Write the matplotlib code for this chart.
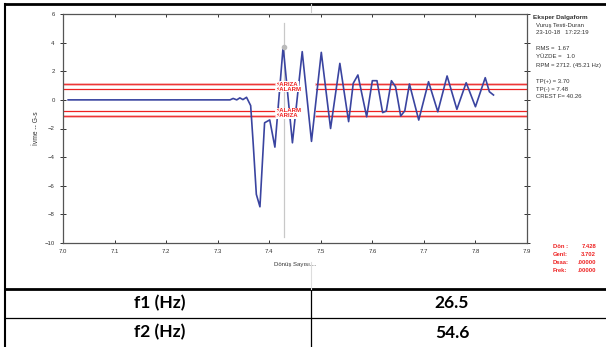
import matplotlib.pyplot as plt
from matplotlib.lines import Line2D

# Dönüş (turn count) vs acceleration trace
turns = [7.010, 7.324, 7.330, 7.337, 7.343, 7.349, 7.356, 7.364, 7.369, 7.375,
         7.382, 7.391, 7.401, 7.411, 7.427, 7.445, 7.464, 7.482, 7.501, 7.519,
         7.537, 7.554, 7.563, 7.572, 7.589, 7.600, 7.609, 7.620, 7.627, 7.637,
         7.645, 7.655, 7.663, 7.672, 7.690, 7.709, 7.727, 7.745, 7.764, 7.782,
         7.800, 7.819, 7.827, 7.835]
accel = [0.00, 0.00, 0.10, 0.00, 0.14, 0.02, 0.18, -0.40, -3.10, -6.60,
         -7.47, -1.60, -1.40, -3.30, 3.72, -3.00, 3.37, -2.90, 3.32, -2.00,
         2.55, -1.52, 1.16, 1.74, -1.18, 1.34, 1.34, -0.89, -0.78, 1.34,
         0.92, -1.13, -0.76, 1.11, -1.41, 1.27, -0.83, 1.67, -0.66, 1.20,
         -0.48, 1.55, 0.57, 0.34]

fault_level = 1.1
alarm_level = 0.75
cursor_turn = 7.428
cursor_amp = 3.702

x_ticks = [7.0, 7.1, 7.2, 7.3, 7.4, 7.5, 7.6, 7.7, 7.8, 7.9]
y_ticks = [-10, -8, -6, -4, -2, 0, 2, 4, 6]

info_lines = ["Vuruş Testi-Duran", "23-10-18   17:22:19", "",
              "RMS =  1.67", "YÜZDE =   1.0", "RPM = 2712. (45.21 Hz)", "",
              "TP(+) = 3.70", "TP(-) = 7.48", "CREST F= 40.26"]
cursor_names = ["Dön :", "Genl:", "Dsaa:", "Frek:"]
cursor_vals = ["7.428", "3.702", ".00000", ".00000"]

table_names = ["f1 (Hz)", "f2 (Hz)"]
table_vals = ["26.5", "54.6"]

W, H = 606, 347
plt.rcParams['font.family'] = ['Liberation Sans', 'DejaVu Sans']
fig = plt.figure(figsize=(W / 100, H / 100), dpi=100)
ax = fig.add_axes([63 / W, 1 - 243 / H, (527 - 63) / W, (243 - 14) / H])

SIG = "#3a44a0"
RED = "#ee2222"

# fault / alarm limit lines, broken where the labels sit
gap_lo, gap_hi = 7.41, 7.49
for lvl in [fault_level, -fault_level]:
    for xs in ([7.0, gap_lo], [gap_hi, 7.9]):
        ax.plot(xs, [lvl, lvl], color="#f4a0a0", lw=1.8, zorder=2)
        ax.plot(xs, [lvl, lvl], color=RED, lw=0.6, zorder=2)
for lvl in [alarm_level, -alarm_level]:
    for xs in ([7.0, gap_lo], [gap_hi, 7.9]):
        ax.plot(xs, [lvl, lvl], color=RED, lw=0.9, zorder=2)

ax.plot([cursor_turn, cursor_turn], [-9.6, 5.4], color="#c8c8c8", lw=0.9, zorder=1)
ax.plot(turns, accel, color=SIG, lw=1.2, zorder=3)
ax.plot([cursor_turn], [cursor_amp], marker="o", ms=3, color="#bbbbbb", zorder=4)

for lvl, name in [(fault_level, "ARIZA"), (alarm_level, "ALARM"),
                  (-alarm_level, "ALARM"), (-fault_level, "ARIZA")]:
    ax.text(7.413, lvl, "⚡" + name, color=RED, fontsize=4.3, fontweight="bold",
            va="center", ha="left", zorder=5,
            bbox=dict(facecolor="white", edgecolor="none", pad=0.3))

ax.set_xlim(7.0, 7.9)
ax.set_ylim(-10, 6)
ax.set_xticks(x_ticks)
ax.set_xticklabels([f"{v:.1f}" for v in x_ticks])
ax.set_yticks(y_ticks)
ax.tick_params(labelsize=4.3, colors="#333333", length=2.5, width=0.7,
               direction="in", top=True, right=True, pad=4)
ax.tick_params(axis="y", which="both", right=True, direction="inout", length=4)
for s in ax.spines.values():
    s.set_color("#555555")
    s.set_linewidth(0.9)
ax.set_xlabel("Dönüş Sayısı....", fontsize=4.3, labelpad=6, color="#333333")
ax.set_ylabel("İvme -- G-s", fontsize=4.8, labelpad=3, color="#333333")

# header block on the right
fig.text(533 / W, 1 - 17 / H, "Eksper Dalgaform", fontsize=4.6, fontweight="bold",
         color="#333333", va="center")
for i, line in enumerate(info_lines):
    fig.text(536 / W, 1 - (25 + i * 8) / H, line, fontsize=4.3, color="#333333",
             va="center")

for i, (n, v) in enumerate(zip(cursor_names, cursor_vals)):
    yy = 1 - (247 + i * 8) / H
    fig.text(553 / W, yy, n, fontsize=4.2, color=RED, fontweight="bold", va="center")
    fig.text(596 / W, yy, v, fontsize=4.2, color=RED, fontweight="bold", va="center",
             ha="right")

# frame and table underneath
def hline(y, x0, x1, lw, col="black"):
    fig.add_artist(Line2D([x0 / W, x1 / W], [1 - y / H, 1 - y / H], color=col, lw=lw))

def vline(x, y0, y1, lw, col="black"):
    fig.add_artist(Line2D([x / W, x / W], [1 - y0 / H, 1 - y1 / H], color=col, lw=lw))

hline(4, 5, W, 2.0)
vline(5, 4, H, 1.5)
hline(289, 5, W, 2.0)
hline(318, 5, W, 0.9)
vline(311, 289, H, 0.9)
vline(311, 4, 12, 0.8, "#cccccc")
vline(311, 262, 289, 0.8, "#dddddd")

for i, (n, v) in enumerate(zip(table_names, table_vals)):
    yy = 1 - (303.5 + i * 29) / H
    fig.text(160 / W, yy, n, fontsize=12.5, fontweight="bold", family="Lato",
             ha="center", va="center")
    fig.text(452 / W, yy, v, fontsize=12.5, fontweight="bold", family="Lato",
             ha="center", va="center")

fig.savefig("out.png", dpi=100)
